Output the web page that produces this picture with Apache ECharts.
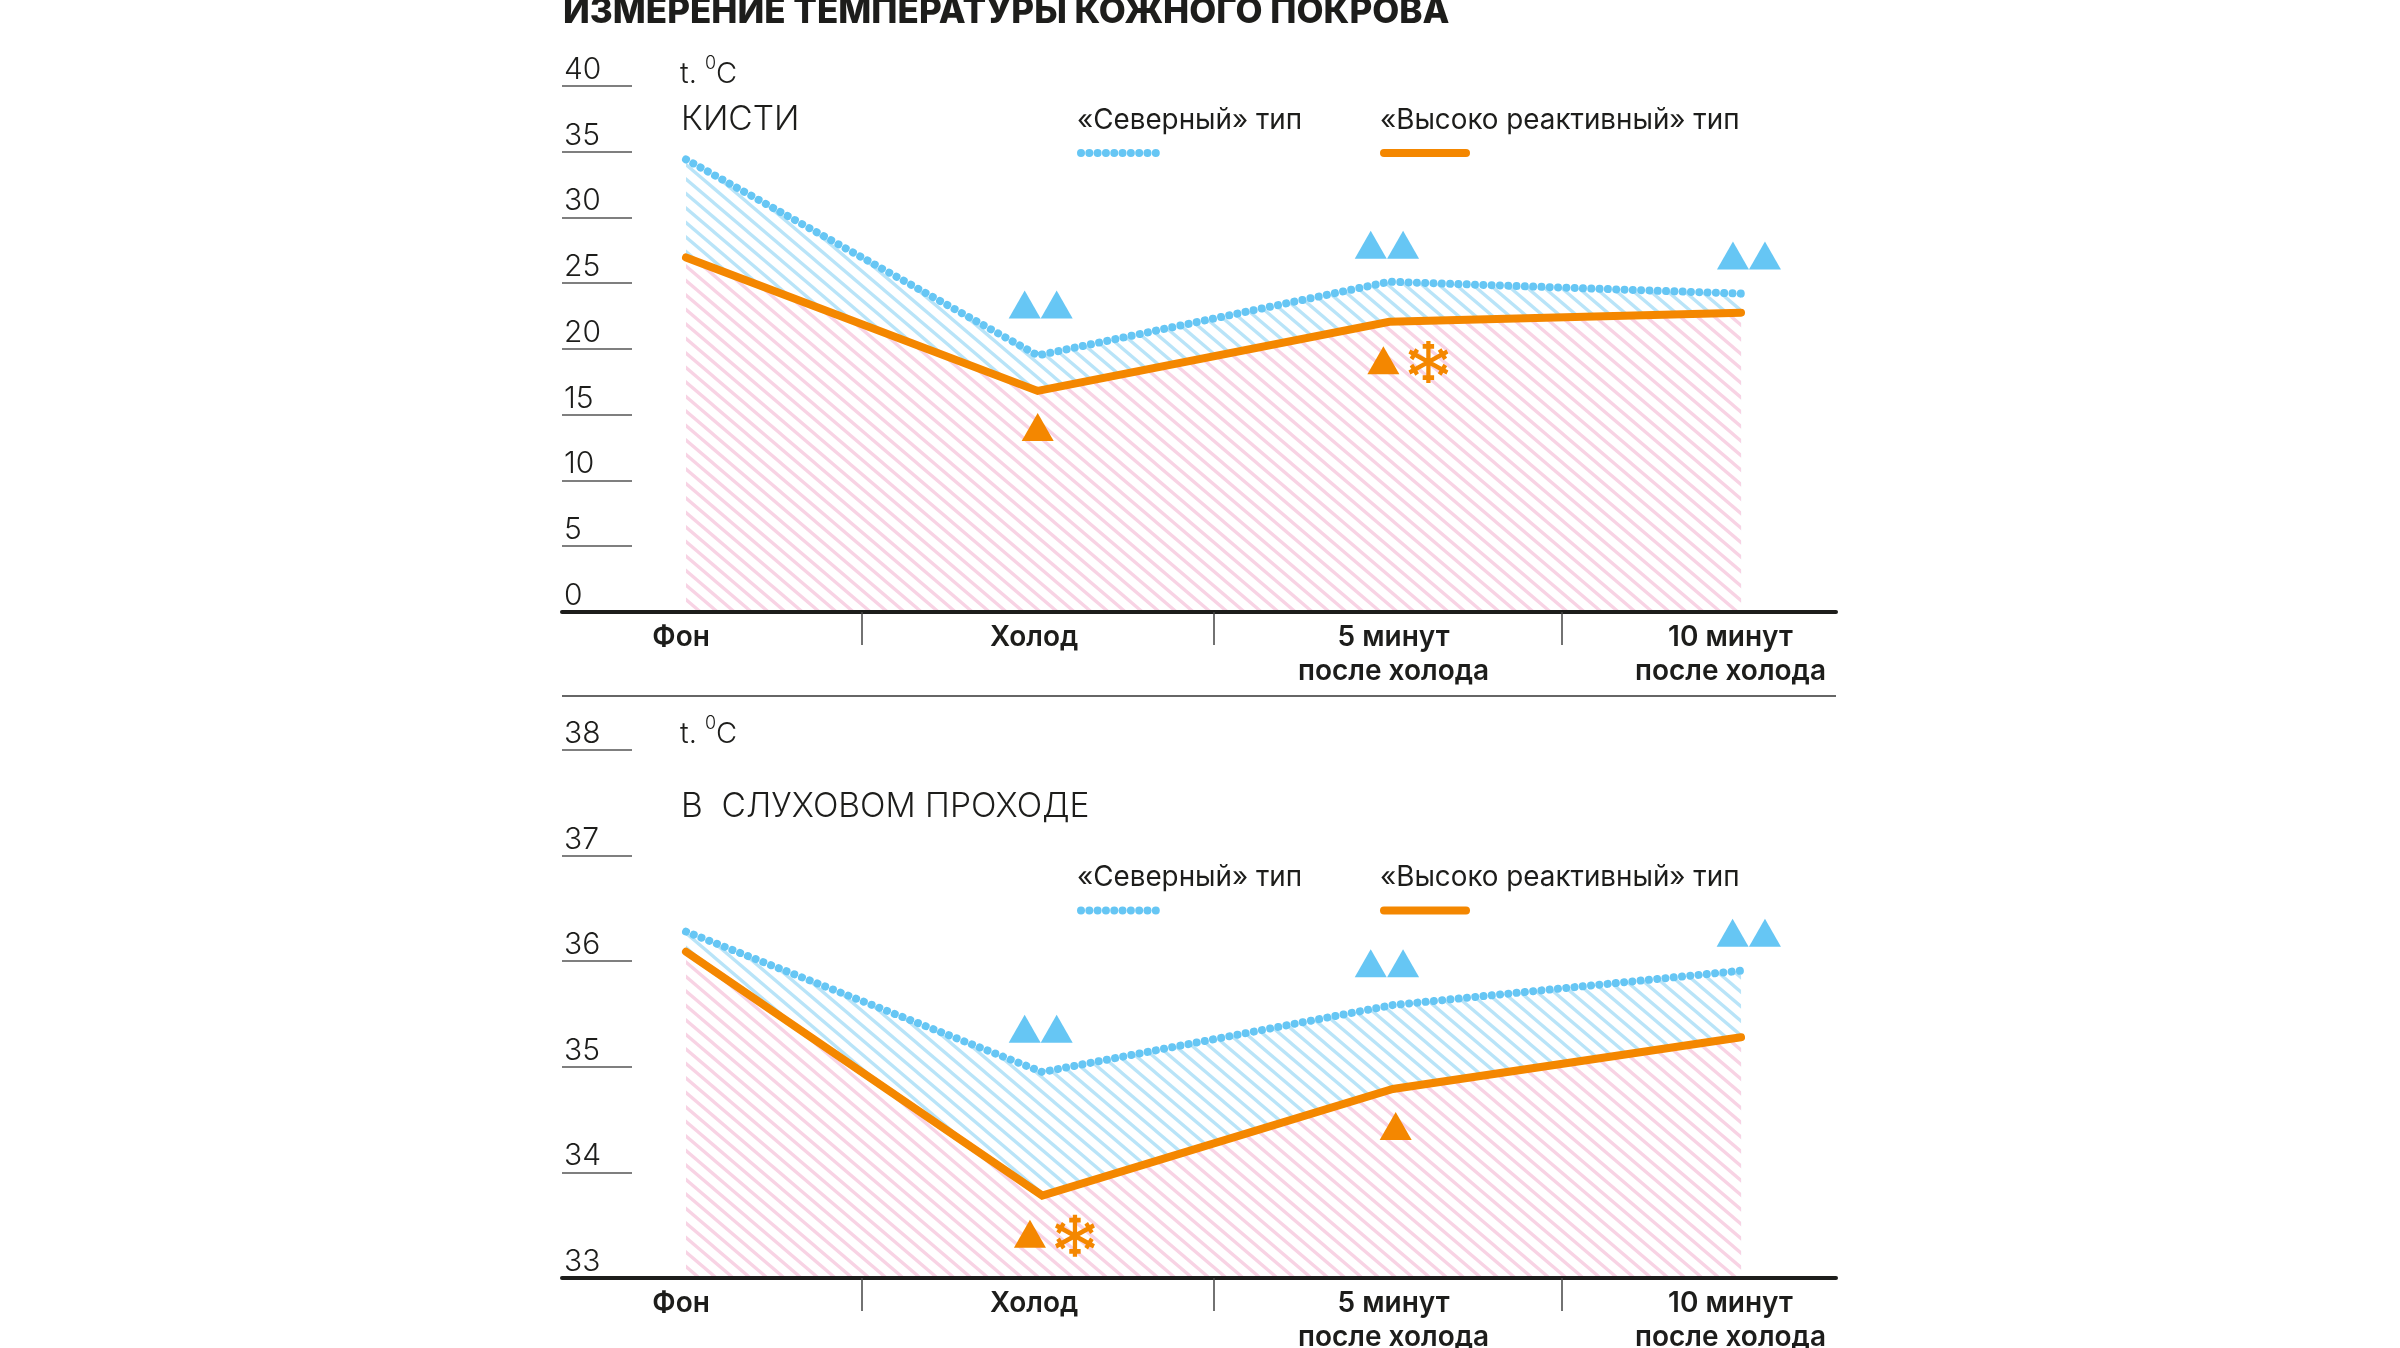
<!DOCTYPE html>
<html><head><meta charset="utf-8">
<style>html,body{margin:0;padding:0;background:#fff}#c{width:2400px;height:1348px}</style>
<script src="https://cdn.jsdelivr.net/npm/echarts@6/dist/echarts.min.js"></script>
</head><body><div id="c"></div>
<script>
// ---- data ----
const titleText = 'ИЗМЕРЕНИЕ ТЕМПЕРАТУРЫ КОЖНОГО ПОКРОВА';
const handsLabel = 'КИСТИ';
const earLabel = 'В  СЛУХОВОМ ПРОХОДЕ';
const northName = '«Северный» тип';
const reactiveName = '«Высоко реактивный» тип';
const categories = ['Фон', 'Холод', '5 минут\nпосле холода', '10 минут\nпосле холода'];
const labelAt = [-0.014, 0.99, 2.012, 2.97];
const separatorsAt = [0.5, 1.5, 2.49];

const handsX = [0, 1, 2, 3];
const handsNorth = [34.4, 19.5, 25.1, 24.2];
const handsReactive = [26.95, 16.8, 22.06, 22.75];
const handsNorthMarks = [[0.963, 23.37], [1.054, 23.37], [1.947, 27.91], [2.039, 27.91], [2.977, 27.1], [3.068, 27.1]];
const handsReactiveMarks = [[1.0, 14.06], [1.983, 19.13]];
const handsSnow = [[2.111, 19.0]];

const earX = [0, 1.013, 2.01, 3];
const earNorth = [36.28, 34.95, 35.585, 35.91];
const earReactive = [36.09, 33.78, 34.79, 35.28];
const earNorthMarks = [[0.963, 35.36], [1.054, 35.36], [1.947, 35.98], [2.039, 35.98], [2.976, 36.27], [3.068, 36.27]];
const earReactiveMarks = [[0.978, 33.42], [2.018, 34.44]];
const earSnow = [[1.106, 33.40]];

// ---- style ----
const FONT = 'Inter';
const INK = '#1d1d1b', BLUE = '#66c6f4', ORANGE = '#f48700';

function hatch(line, bg) {
  const w = 34, h = 29, c = document.createElement('canvas');
  c.width = w; c.height = h;
  const g = c.getContext('2d');
  if (bg) { g.fillStyle = bg; g.fillRect(0, 0, w, h); }
  g.strokeStyle = line; g.lineWidth = 3.3;
  for (let k = -2; k <= 2; k++) {
    g.beginPath();
    g.moveTo(k * w / 2 - w, -h);
    g.lineTo(k * w / 2 + w * 2, h * 2);
    g.stroke();
  }
  return c;
}
const blueHatch = { image: hatch('#b9e4f8', null), repeat: 'repeat' };
const pinkHatch = { image: hatch('#f8d3e4', '#ffffff'), repeat: 'repeat' };

function snowflakePath() {
  const parts = [];
  const rot = (x, y, a) => [50 + x * Math.cos(a) - y * Math.sin(a), 50 + x * Math.sin(a) + y * Math.cos(a)];
  const seg = (p, q, a) => {
    const s = rot(p[0], p[1], a), e = rot(q[0], q[1], a);
    return 'M' + s[0].toFixed(2) + ' ' + s[1].toFixed(2) + 'L' + e[0].toFixed(2) + ' ' + e[1].toFixed(2);
  };
  for (let k = 0; k < 6; k++) {
    const a = k * Math.PI / 3;
    parts.push(seg([0, 0], [0, -50], a));
    parts.push(seg([-13, -37], [13, -37], a));
  }
  return 'path://' + parts.join('');
}
const SNOW = snowflakePath();

const LEFT = 562, RIGHT = 564, XMIN = -0.3526, XMAX = 3.27;
const zip = (xs, ys) => xs.map((x, i) => [x, ys[i]]);

function xAxis(i) {
  return {
    gridIndex: i, type: 'value', min: XMIN, max: XMAX, z: 10,
    splitLine: { show: false },
    axisLine: { show: true, onZero: false, lineStyle: { color: INK, width: 4 } },
    axisTick: { show: true, customValues: separatorsAt, length: 33, lineStyle: { color: '#444', width: 1.5 } },
    axisLabel: {
      show: true, customValues: labelAt, margin: 9,
      formatter: v => categories[labelAt.indexOf(v)] || '',
      color: INK, fontFamily: FONT, fontWeight: 600, fontSize: 28, lineHeight: 34, align: 'center', verticalAlign: 'top',
      showMinLabel: true, showMaxLabel: true, hideOverlap: false
    }
  };
}
function yAxis(i, min, max, step) {
  return {
    gridIndex: i, type: 'value', min, max, interval: step,
    splitLine: { show: false },
    axisLine: { show: false, onZero: false },
    axisTick: { show: true, inside: true, length: 70, lineStyle: { color: '#555', width: 1.5 } },
    axisLabel: {
      show: true, inside: true, margin: 2, align: 'left', verticalAlign: 'bottom', padding: [0, 0, 1, 0],
      color: INK, fontFamily: FONT, fontWeight: 300, fontSize: 30
    }
  };
}
function chartSeries(i, xs, north, reactive, nMarks, rMarks, snow) {
  const base = { type: 'line', xAxisIndex: i, yAxisIndex: i, symbol: 'none', silent: true, clip: false };
  return [
    { ...base, name: northName, z: 2, data: zip(xs, north), areaStyle: { color: blueHatch, opacity: 1 },
      lineStyle: { color: BLUE, width: 8, type: [0.01, 8.3], cap: 'round' } },
    { ...base, z: 3, data: zip(xs, reactive), areaStyle: { color: pinkHatch, opacity: 1 }, lineStyle: { width: 0, opacity: 0 } },
    { ...base, name: reactiveName, z: 4, data: zip(xs, reactive),
      lineStyle: { color: ORANGE, width: 8, cap: 'round', join: 'miter' } },
    { type: 'scatter', xAxisIndex: i, yAxisIndex: i, z: 5, silent: true, symbol: 'triangle', symbolSize: [32, 28], itemStyle: { color: BLUE, opacity: 1 }, data: nMarks },
    { type: 'scatter', xAxisIndex: i, yAxisIndex: i, z: 5, silent: true, symbol: 'triangle', symbolSize: [32, 28], itemStyle: { color: ORANGE, opacity: 1 }, data: rMarks },
    { type: 'scatter', xAxisIndex: i, yAxisIndex: i, z: 5, silent: true, symbol: SNOW, symbolKeepAspect: false, symbolSize: [38, 42],
      itemStyle: { color: 'transparent', borderColor: ORANGE, borderWidth: 4.5, opacity: 1 }, data: snow }
  ];
}
function text(x, y, str, size, weight) {
  return { type: 'text', x, y, z: 20, silent: true,
    style: { text: str, fill: INK, fontFamily: FONT, fontSize: size, fontWeight: weight, verticalAlign: 'middle' } };
}
function tempUnit(x, y) {
  return { type: 'text', x, y, z: 20, silent: true, style: {
    text: '{a|t. }{s|0}{a|C}', fontFamily: FONT, verticalAlign: 'middle',
    rich: {
      a: { fontFamily: FONT, fontSize: 29, fontWeight: 300, fill: INK, lineHeight: 34, verticalAlign: 'bottom' },
      s: { fontFamily: FONT, fontSize: 18, fontWeight: 300, fill: INK, lineHeight: 34, verticalAlign: 'top' }
    } } };
}
function legend(dy) {
  return [
    text(1077, 120.5 + dy, northName, 27.8, 400),
    text(1380, 120.5 + dy, reactiveName, 27.8, 400),
    { type: 'line', z: 20, silent: true, shape: { x1: 1081, y1: 153 + dy, x2: 1160, y2: 153 + dy },
      style: { stroke: BLUE, lineWidth: 8, lineDash: [0.01, 8.3], lineCap: 'round' } },
    { type: 'line', z: 20, silent: true, shape: { x1: 1384, y1: 153 + dy, x2: 1466, y2: 153 + dy },
      style: { stroke: ORANGE, lineWidth: 8, lineCap: 'round' } }
  ];
}

const chart = echarts.init(document.getElementById('c'), null, { renderer: 'canvas' });
chart.setOption({
  animation: false,
  backgroundColor: '#fff',
  grid: [
    { left: LEFT, right: RIGHT, top: 85.7, height: 526.3, outerBoundsMode: 'none' },
    { left: LEFT, right: RIGHT, top: 750, height: 528, outerBoundsMode: 'none' }
  ],
  xAxis: [xAxis(0), xAxis(1)],
  yAxis: [yAxis(0, 0, 40, 5), yAxis(1, 33, 38, 1)],
  series: [
    ...chartSeries(0, handsX, handsNorth, handsReactive, handsNorthMarks, handsReactiveMarks, handsSnow),
    ...chartSeries(1, earX, earNorth, earReactive, earNorthMarks, earReactiveMarks, earSnow)
  ],
  graphic: [
    text(563, 12, titleText, 35, 800),
    tempUnit(680, 72),
    text(681, 119.5, handsLabel, 33.5, 300),
    ...legend(0),
    { type: 'line', z: 20, silent: true, shape: { x1: 562, y1: 696, x2: 1836, y2: 696 }, style: { stroke: '#666', lineWidth: 2 } },
    tempUnit(680, 732),
    text(681, 806.5, earLabel, 33.5, 300),
    ...legend(757.6)
  ]
});
</script></body></html>
